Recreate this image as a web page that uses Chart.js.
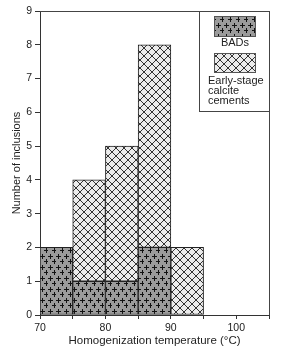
<!DOCTYPE html>
<html>
<head>
<meta charset="utf-8">
<script src="https://cdn.jsdelivr.net/npm/chart.js@4.4.1/dist/chart.umd.min.js"></script>
<style>
  html, body { margin: 0; padding: 0; background: #fff; }
  #wrap { width: 281px; height: 357px; }
</style>
</head>
<body>
<div id="wrap"><canvas id="c" width="281" height="357"></canvas></div>
<script>
// Bin centres (°C) of 5-degree bins 70-75, 75-80, 80-85, 85-90, 90-95
const binCenters = [72.5, 77.5, 82.5, 87.5, 92.5];
const badsCounts = [2, 1, 1, 2, 0];
const calciteCounts = [0, 3, 4, 6, 2];
const seriesNames = ['BADs', ['Early-stage', 'calcite', 'cements']];
const xTitle = 'Homogenization temperature (°C)';
const yTitle = 'Number of inclusions';

const FONT = "'Liberation Sans', Arial, Helvetica, sans-serif";

function plusPattern() {
  const c = document.createElement('canvas');
  c.width = 8; c.height = 11;
  const g = c.getContext('2d');
  g.fillStyle = '#9b9b9b';
  g.fillRect(0, 0, 8, 11);
  g.fillStyle = '#111';
  const plus = (cx, cy) => {
    g.fillRect(cx - 2, cy, 5, 1);
    g.fillRect(cx, cy - 2, 1, 5);
  };
  plus(2, 3);
  plus(6, 8);
  return g.createPattern(c, 'repeat');
}
function hatchPattern() {
  const c = document.createElement('canvas');
  c.width = 8; c.height = 8;
  const g = c.getContext('2d');
  g.fillStyle = '#ececec';
  g.fillRect(0, 0, 8, 8);
  g.strokeStyle = '#333';
  g.lineWidth = 1;
  g.beginPath();
  g.moveTo(-1, -1); g.lineTo(9, 9);
  g.moveTo(9, -1); g.lineTo(-1, 9);
  g.stroke();
  return g.createPattern(c, 'repeat');
}
const badsFill = plusPattern();
const calciteFill = hatchPattern();

const toPoints = arr => binCenters.map((x, i) => ({ x: x, y: arr[i] === 0 ? null : arr[i] }));

const framePlugin = {
  id: 'frameLegend',
  afterDraw(chart) {
    const { ctx, chartArea: a } = chart;
    ctx.save();
    ctx.strokeStyle = '#444';
    ctx.lineWidth = 1;
    ctx.beginPath();
    ctx.moveTo(a.left, a.top + 0.5);
    ctx.lineTo(a.right + 0.5, a.top + 0.5);
    ctx.lineTo(a.right + 0.5, a.bottom);
    ctx.stroke();
    // legend box
    const bx = 199.5, by = a.top + 0.5, bw = a.right - 199, bh = 100;
    ctx.fillStyle = '#fff';
    ctx.fillRect(bx, by, bw, bh);
    ctx.strokeRect(bx, by, bw, bh);
    // swatches
    const sx = 214, sw = 41;
    ctx.fillStyle = badsFill;
    ctx.fillRect(sx, 16, sw, 20);
    ctx.strokeStyle = '#555';
    ctx.strokeRect(sx + 0.5, 16.5, sw, 20);
    ctx.fillStyle = calciteFill;
    ctx.fillRect(sx, 53, sw, 19);
    ctx.strokeRect(sx + 0.5, 53.5, sw, 19);
    ctx.fillStyle = '#222';
    ctx.font = '11px ' + FONT;
    ctx.textBaseline = 'middle';
    ctx.textAlign = 'center';
    ctx.fillText(seriesNames[0], 235, 43);
    ctx.textAlign = 'left';
    seriesNames[1].forEach((t, i) => ctx.fillText(t, 208, 81 + i * 10));
    ctx.restore();
  }
};

new Chart(document.getElementById('c'), {
  type: 'bar',
  data: {
    datasets: [
      { label: 'BADs', data: toPoints(badsCounts), backgroundColor: badsFill,
        borderColor: '#222', borderWidth: 1, borderSkipped: false,
        barPercentage: 1, categoryPercentage: 1 },
      { label: 'Early-stage calcite cements', data: toPoints(calciteCounts), backgroundColor: calciteFill,
        borderColor: '#222', borderWidth: 1, borderSkipped: false,
        barPercentage: 1, categoryPercentage: 1 }
    ]
  },
  options: {
    responsive: false,
    animation: false,
    devicePixelRatio: 1,
    layout: { padding: { top: 11, right: 12, left: 0, bottom: 0 } },
    plugins: { legend: { display: false }, tooltip: { enabled: false } },
    scales: {
      x: {
        type: 'linear', min: 70, max: 105, stacked: true, offset: false,
        grid: { offset: false, drawOnChartArea: false, tickLength: 4, color: '#333' },
        border: { color: '#333' },
        ticks: { stepSize: 5, autoSkip: false, maxRotation: 0, padding: 3,
          color: '#222', font: { size: 10.5, family: FONT },
          callback: v => (v % 10 === 0 ? String(v) : '') },
        title: { display: true, text: xTitle, color: '#222',
          font: { size: 11.5, family: FONT }, padding: { top: 0, bottom: 9 } },
        afterFit: s => { s.height = 42; }
      },
      y: {
        min: 0, max: 9, stacked: true,
        grid: { drawOnChartArea: false, tickLength: 5, color: '#333' },
        border: { color: '#333' },
        ticks: { stepSize: 1, padding: 3, color: '#222', font: { size: 10.5, family: FONT } },
        title: { display: true, text: yTitle, color: '#222',
          font: { size: 11, family: FONT }, padding: { top: 10, bottom: 0 } },
        afterFit: s => { s.width = 40; }
      }
    }
  },
  plugins: [framePlugin]
});
</script>
</body>
</html>
